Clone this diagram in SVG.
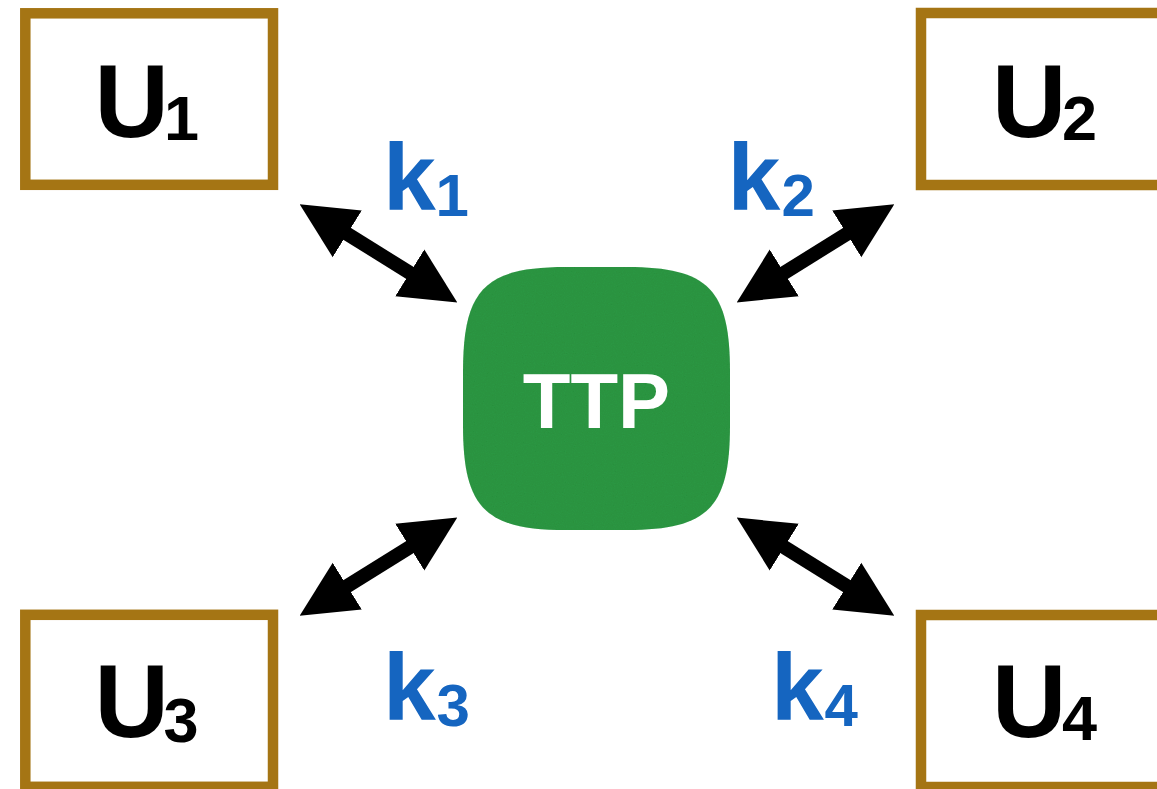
<svg xmlns="http://www.w3.org/2000/svg" width="1157" height="789" viewBox="0 0 1157 789">
  <style>
    .user { fill: #ffffff; stroke: #a57514; stroke-width: 10.5; }
    .ulabel { font-family: "Liberation Sans", Arial, sans-serif; font-weight: bold; fill: #000000; font-size: 103px; }
    .tight { letter-spacing: -7px; }
    .sub { font-size: 63px; }
    .key { font-family: "Liberation Sans", Arial, sans-serif; font-weight: bold; fill: #1565c0; font-size: 95px; }
    .ksub { font-size: 60px; }
    .ttp { fill: #2f9a45; }
    .ttplabel { font-family: "Liberation Sans", Arial, sans-serif; font-weight: bold; font-size: 78px; fill: #ffffff; }
    .link { stroke: #000000; stroke-width: 14; fill: none; marker-start: url(#head); marker-end: url(#head); }
  </style>
  <defs>
    <marker id="head" markerUnits="userSpaceOnUse" markerWidth="56" markerHeight="56" viewBox="0 0 54 53" refX="14" refY="26.5" orient="auto-start-reverse">
      <path d="M0,0 L54,26.5 L0,53 Z" fill="#000000"/>
    </marker>
    <filter id="grain" x="0" y="0" width="100%" height="100%">
      <feTurbulence type="fractalNoise" baseFrequency="0.9" numOctaves="2" seed="3" result="noise"/>
      <feColorMatrix in="noise" type="matrix" values="0 0 0 0 0  0 0 0 0 0.05  0 0 0 0 0  0 0 0 0.18 0" result="dots"/>
      <feComposite in="dots" in2="SourceGraphic" operator="in" result="clipped"/>
      <feMerge>
        <feMergeNode in="SourceGraphic"/>
        <feMergeNode in="clipped"/>
      </feMerge>
    </filter>
  </defs>

  <rect width="1157" height="789" fill="#ffffff"/>

  <!-- two-way key exchange links -->
  <g id="connectors">
    <line class="link" x1="334.9" y1="226.2" x2="422.1" y2="280.5"/>
    <line class="link" x1="859.1" y1="226.2" x2="771.9" y2="280.5"/>
    <line class="link" x1="334.9" y1="593.8" x2="422.1" y2="539.5"/>
    <line class="link" x1="859.1" y1="593.8" x2="771.9" y2="539.5"/>
  </g>

  <g id="U1">
    <rect class="user" x="25.3" y="13.3" width="247.7" height="171.5"/>
    <text class="ulabel" x="94.5" y="137"><tspan class="tight">U</tspan><tspan class="sub" x="164" y="140">1</tspan></text>
  </g>
  <g id="U2">
    <rect class="user" x="921" y="13" width="250" height="172"/>
    <text class="ulabel" x="992" y="137"><tspan class="tight">U</tspan><tspan class="sub" x="1062" y="140">2</tspan></text>
  </g>
  <g id="U3">
    <rect class="user" x="25.3" y="614.8" width="247.7" height="172"/>
    <text class="ulabel" x="94.5" y="737"><tspan class="tight">U</tspan><tspan class="sub" x="163.5" y="741.5">3</tspan></text>
  </g>
  <g id="U4">
    <rect class="user" x="921" y="615" width="250" height="172"/>
    <text class="ulabel" x="992" y="737"><tspan class="tight">U</tspan><tspan class="sub" x="1062" y="740">4</tspan></text>
  </g>

  <g id="TTP">
    <path class="ttp" filter="url(#grain)" d="M463,372 C463,290 484,267 566,267 L627,267 C709,267 730,290 730,372 L730,425 C730,507 709,530 627,530 L566,530 C484,530 463,507 463,425 Z"/>
    <text class="ttplabel" x="596.5" y="428" text-anchor="middle">TTP</text>
  </g>

  <g id="keys">
    <text class="key" x="383" y="210">k<tspan class="ksub" x="435.5" y="216">1</tspan></text>
    <text class="key" x="727.6" y="210">k<tspan class="ksub" x="781.5" y="216">2</tspan></text>
    <text class="key" x="383" y="720">k<tspan class="ksub" x="436.5" y="726">3</tspan></text>
    <text class="key" x="771" y="720">k<tspan class="ksub" x="824.5" y="726">4</tspan></text>
  </g>
</svg>
